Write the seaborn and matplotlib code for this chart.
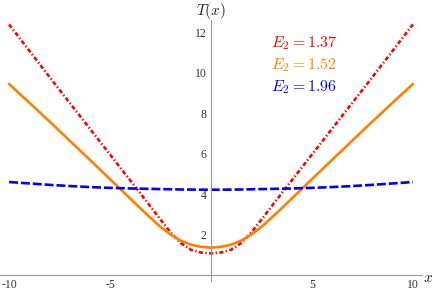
import matplotlib
matplotlib.use("Agg")
import matplotlib.pyplot as plt
import seaborn as sns

# values
x_vals = [-10, -9, -8, -7, -6, -5, -4, -3.5, -3, -2.5, -2, -1.5, -1, -0.5, 0,
          0.5, 1, 1.5, 2, 2.5, 3, 3.5, 4, 5, 6, 7, 8, 9, 10]
T_137 = [12.4, 11.1, 9.8, 8.52, 7.24, 5.96, 4.68, 4.04, 3.39, 2.74, 2.1, 1.58, 1.25, 1.11, 1.07,
         1.11, 1.25, 1.58, 2.1, 2.74, 3.39, 4.04, 4.68, 5.96, 7.24, 8.52, 9.8, 11.1, 12.4]
T_152 = [9.45, 8.53, 7.6, 6.65, 5.7, 4.74, 3.78, 3.3, 2.83, 2.38, 2.0, 1.7, 1.5, 1.39, 1.35,
         1.39, 1.5, 1.7, 2.0, 2.38, 2.83, 3.3, 3.78, 4.74, 5.7, 6.65, 7.6, 8.53, 9.45]
T_196 = [4.6, 4.53, 4.46, 4.4, 4.35, 4.31, 4.28, 4.27, 4.26, 4.25, 4.24, 4.23, 4.225, 4.22, 4.22,
         4.22, 4.225, 4.23, 4.24, 4.25, 4.26, 4.27, 4.28, 4.31, 4.35, 4.4, 4.46, 4.53, 4.6]
labels = ["1.37", "1.52", "1.96"]
colors = ["#ff0000", "#ff8000", "#0000ff"]
x_ticks = [-10, -5, 5, 10]
y_ticks = [2, 4, 6, 8, 10, 12]

sns.set_style("white")
plt.rcParams["mathtext.fontset"] = "cm"
plt.rcParams["axes.unicode_minus"] = False

fig = plt.figure(figsize=(4.36, 2.91), dpi=100)
ax = fig.add_axes([0, 10 / 291, 422 / 436, 261 / 291])

styles = [(0, (1.6, 0.9, 0.5, 0.9)), "-", (0, (3.4, 1.1))]
for ys, c, ls in zip([T_137, T_152, T_196], colors, styles):
    sns.lineplot(x=x_vals, y=ys, ax=ax, color=c, linewidth=1.9, linestyle=ls)

ax.set_xlim(-10.45, 10.45)
ax.set_ylim(-0.3, 12.62)

for s in ["top", "right"]:
    ax.spines[s].set_visible(False)
ax.spines["left"].set_position(("data", 0))
ax.spines["bottom"].set_position(("data", 0))
for s in ["left", "bottom"]:
    ax.spines[s].set_color("#9a9a9a")
    ax.spines[s].set_linewidth(0.8)

ax.set_xticks(x_ticks)
ax.set_yticks(y_ticks)
ax.set_xticks(range(-10, 11), minor=True)
ax.set_yticks([i * 0.5 for i in range(1, 26)], minor=True)
ax.tick_params(which="both", direction="in", color="#9a9a9a", width=0.6,
               labelsize=8.5, labelcolor="#333333", pad=3)
ax.tick_params(which="major", length=3)
ax.tick_params(which="minor", length=1.6)
for t in ax.get_xticklabels() + ax.get_yticklabels():
    t.set_fontfamily("Liberation Serif")

fig.text(211 / 436, 1 - 1 / 291, "$T(x)$", ha="center", va="top", fontsize=11)
fig.text(428 / 436, 1 - 278 / 291, "$x$", ha="center", va="center", fontsize=11)

for i, (lab, c) in enumerate(zip(labels, colors)):
    ax.text(2.95, 11.45 - i * 1.08, "$E_2 = " + lab + "$", color=c, fontsize=11.5,
            ha="left", va="center")

fig.savefig("out.png", dpi=100)
